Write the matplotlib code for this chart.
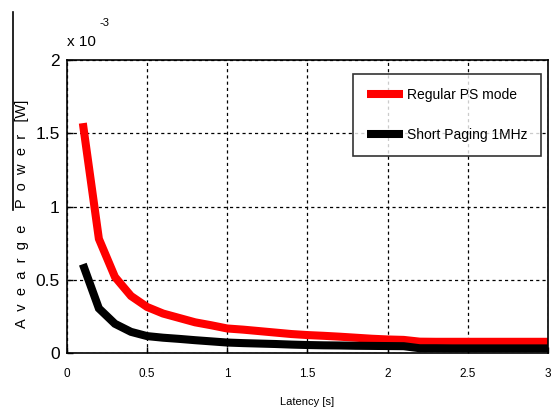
import matplotlib
matplotlib.use("Agg")
import matplotlib.pyplot as plt
from matplotlib.lines import Line2D

plt.rcParams['font.family'] = ['Liberation Sans', 'DejaVu Sans']

latency = [0.1, 0.2, 0.3, 0.4, 0.5, 0.6, 0.7, 0.8, 0.9, 1.0,
           1.1, 1.2, 1.3, 1.4, 1.5, 1.6, 1.7, 1.8, 1.9, 2.0,
           2.1, 2.2, 2.3, 2.4, 2.5, 2.6, 2.7, 2.8, 2.9, 3.0]
regular_ps = [1.57, 0.78, 0.52, 0.39, 0.315, 0.27, 0.24, 0.21, 0.19, 0.168,
              0.16, 0.15, 0.14, 0.13, 0.123, 0.118, 0.112, 0.105, 0.098, 0.093,
              0.09, 0.078, 0.077, 0.077, 0.077, 0.077, 0.077, 0.077, 0.077, 0.077]
short_paging = [0.607, 0.305, 0.2, 0.145, 0.116, 0.105, 0.097, 0.088, 0.08, 0.072,
                0.068, 0.065, 0.062, 0.058, 0.055, 0.053, 0.052, 0.05, 0.049, 0.048,
                0.047, 0.033, 0.033, 0.032, 0.032, 0.032, 0.032, 0.032, 0.032, 0.032]
scale = 1e-3
xticks = [0, 0.5, 1, 1.5, 2, 2.5, 3]
xticklabels = ['0', '0.5', '1', '1.5', '2', '2.5', '3']
yticks = [0, 0.5, 1, 1.5, 2]
yticklabels = ['0', '0.5', '1', '1.5', '2']

fig = plt.figure(figsize=(5.52, 4.12), dpi=100)
ax = fig.add_axes([0.121, 0.143, 0.872, 0.711])

ax.plot(latency, [v * scale for v in regular_ps], color='#ff0000', lw=5.8,
        label='Regular PS mode', solid_joinstyle='miter', solid_capstyle='butt')
ax.plot(latency, [v * scale for v in short_paging], color='black', lw=5.8,
        label='Short Paging 1MHz', solid_joinstyle='miter', solid_capstyle='butt')

ax.set_xlim(0, 3)
ax.set_ylim(0, 2 * scale)
ax.set_xticks(xticks)
ax.set_xticklabels(xticklabels, fontsize=8.5)
ax.set_yticks([t * scale for t in yticks])
ax.set_yticklabels(yticklabels, fontsize=12.5)
ax.tick_params(direction='in', length=4, width=1, top=False, right=False, pad=5)
ax.tick_params(axis='x', pad=11)
for s in ax.spines.values():
    s.set_linewidth(1.2)
ax.grid(True, color='black', linestyle=(0, (2.5, 2.5)), linewidth=0.9)

ax.set_xlabel('Latency [s]', fontsize=8, labelpad=12)
fig.text(0.04, 0.48, 'A  v  e  a  r  g  e    P  o  w  e  r   [W]', rotation=90,
         fontsize=10.5, ha='center', va='center')
fig.add_artist(Line2D([0.0235, 0.0235], [0.49, 0.97], color='black', lw=1.2))

fig.text(0.121, 0.898, 'x 10', fontsize=11, ha='left', va='center')
fig.text(0.180, 0.945, '-3', fontsize=8, ha='left', va='center')

leg = ax.legend(loc='upper left', fontsize=10, frameon=True, fancybox=False,
                edgecolor='black', handlelength=2.6, handletextpad=0.25,
                borderpad=1.0, labelspacing=1.85, borderaxespad=0,
                bbox_to_anchor=(0.595, 0.952))
leg.get_frame().set_linewidth(1.2)

fig.savefig('out.png', dpi=100)
